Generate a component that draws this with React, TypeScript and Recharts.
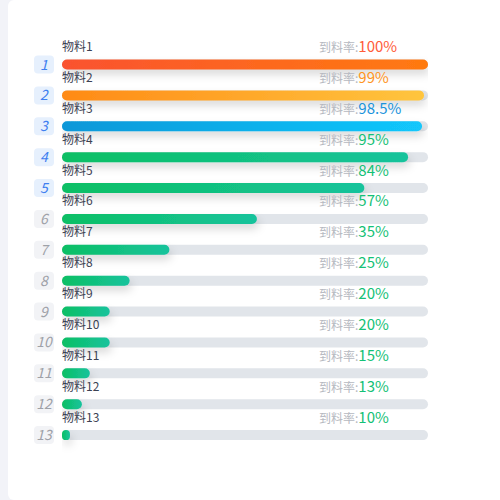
import React from 'react';
import { BarChart, Bar, XAxis, YAxis, Cell, LabelList, Rectangle } from 'recharts';

const names = ['物料1', '物料2', '物料3', '物料4', '物料5', '物料6', '物料7', '物料8', '物料9', '物料10', '物料11', '物料12', '物料13'];
const rates = [100, 99, 98.5, 95, 84, 57, 35, 25, 20, 20, 15, 13, 10];
const rateLabels = ['100%', '99%', '98.5%', '95%', '84%', '57%', '35%', '25%', '20%', '20%', '15%', '13%', '10%'];
const ranks = ['1', '2', '3', '4', '5', '6', '7', '8', '9', '10', '11', '12', '13'];

const gradients = [
  ['#fa5230', '#ff7a10'],
  ['#ff8a16', '#ffc53e'],
  ['#0897d8', '#12c7fc'],
  ['#0cbf64', '#16c39c'],
];
const valueColors = ['#ff5d3a', '#ff951e', '#1a94dc', '#14c176'];

const data = names.map((name, i) => ({ name, rate: rates[i], label: rateLabels[i], rank: ranks[i] }));

const FONT = '"Noto Sans CJK SC", "Noto Sans", sans-serif';
const RATE_X = 319;

const RowLabel = (props: any) => {
  const vb = props.viewBox || props;
  const x = vb.x ?? props.x;
  const y = vb.y ?? props.y;
  const h = vb.height ?? props.height;
  const index = props.index as number;
  const d = data[index];
  if (!d) return null;
  const cy = y + h / 2;
  const top5 = index < 5;
  const vc = valueColors[Math.min(index, 3)];
  return (
    <g>
      <rect x={x - 28} y={cy - 9} width={20} height={18} rx={4} ry={4} fill={top5 ? '#e6f0fd' : '#f2f3f6'} />
      <text x={x - 18} y={cy + 5} textAnchor="middle" fontSize={14} fontStyle="italic" fontFamily={FONT} fill={top5 ? '#3f7ff0' : '#9ea1a8'}>
        {d.rank}
      </text>
      <text x={x} y={cy - 13.5} fontSize={12} fontFamily={FONT} fill="#3b4152">
        {d.name}
      </text>
      <text x={RATE_X} y={cy - 12.5} fontFamily={FONT}>
        <tspan fontSize={12} fill="#b5b8c0">到料率:</tspan>
        <tspan fontSize={15} fill={vc}>{d.label}</tspan>
      </text>
    </g>
  );
};

const ShadowBar = (props: any) => <Rectangle {...props} filter="url(#barShadow)" />;

export default function App() {
  return (
    <div style={{ position: 'fixed', left: 0, top: 0, width: 500, height: 500, background: '#f2f3f8', overflow: 'hidden', fontFamily: FONT }}>
      <div style={{ position: 'absolute', left: 8, top: 0, width: 520, height: 500, background: '#ffffff', borderRadius: 6 }} />
      <div style={{ position: 'absolute', left: 0, top: 0 }}>
        <BarChart
          width={500}
          height={500}
          data={data}
          layout="vertical"
          margin={{ top: 49.5, bottom: 49, left: 62, right: 72 }}
        >
          <defs>
            {gradients.map((g, i) => (
              <linearGradient key={i} id={`grad${i}`} x1="0" y1="0" x2="1" y2="0">
                <stop offset="0%" stopColor={g[0]} />
                <stop offset="100%" stopColor={g[1]} />
              </linearGradient>
            ))}
            <filter id="barShadow" filterUnits="userSpaceOnUse" x="0" y="0" width="500" height="500">
              <feDropShadow dx="2" dy="5" stdDeviation="4" floodColor="#000000" floodOpacity="0.15" />
            </filter>
          </defs>
          <XAxis type="number" domain={[8, 100]} hide allowDataOverflow />
          <YAxis type="category" dataKey="name" hide />
          <Bar
            dataKey="rate"
            barSize={10}
            radius={5}
            background={{ fill: '#e1e5ea', radius: 5 }}
            shape={ShadowBar}
            isAnimationActive={false}
          >
            {data.map((d, i) => (
              <Cell key={d.name} fill={`url(#grad${Math.min(i, 3)})`} />
            ))}
            <LabelList dataKey="rate" content={(p: any) => <RowLabel {...p} />} />
          </Bar>
        </BarChart>
      </div>
    </div>
  );
}
